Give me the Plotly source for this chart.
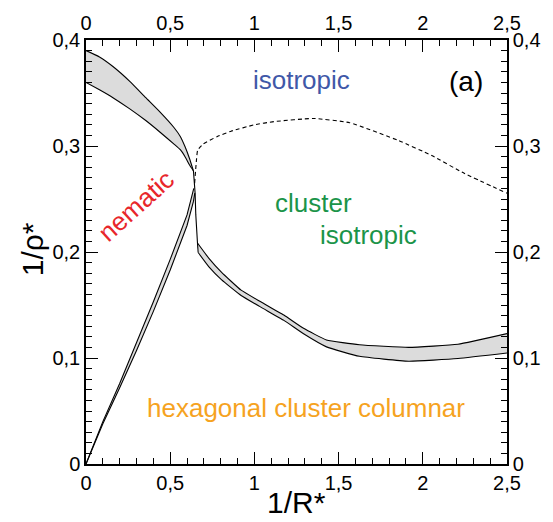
import plotly.graph_objects as go

# ---- phase boundaries (1/R*, 1/rho*) ----
# nematic / isotropic coexistence band
ni_upper_x = [0.0, 0.08, 0.16, 0.26, 0.355, 0.44, 0.521, 0.56, 0.589, 0.615, 0.638]
ni_upper_y = [0.390, 0.384, 0.375, 0.361, 0.3456, 0.332, 0.3177, 0.309, 0.299, 0.288, 0.2765]
ni_lower_x = [0.0, 0.08, 0.16, 0.26, 0.355, 0.44, 0.521, 0.56, 0.589, 0.615, 0.638]
ni_lower_y = [0.360, 0.353, 0.3456, 0.335, 0.324, 0.313, 0.302, 0.2965, 0.2897, 0.282, 0.2765]

# nematic / hexagonal coexistence band
nh_left_x = [0.0, 0.1, 0.2, 0.3, 0.4, 0.5, 0.6, 0.628, 0.640]
nh_left_y = [0.0, 0.040, 0.076, 0.114, 0.153, 0.193, 0.235, 0.2524, 0.260]
nh_right_x = [0.0, 0.1, 0.2, 0.3, 0.4, 0.5, 0.6, 0.638, 0.646]
nh_right_y = [0.0, 0.038, 0.072, 0.107, 0.144, 0.183, 0.225, 0.2477, 0.2555]

# steep boundary below the triple point
steep_x = [0.638, 0.643, 0.648, 0.652, 0.657, 0.662]
steep_y = [0.2765, 0.265, 0.2555, 0.235, 0.212, 0.2085]

# cluster isotropic / hexagonal coexistence band
ch_upper_x = [0.662, 0.73, 0.804, 0.921, 1.038, 1.175, 1.292, 1.428, 1.624, 1.916, 2.209, 2.5]
ch_upper_y = [0.2085, 0.194, 0.181, 0.164, 0.153, 0.1405, 0.128, 0.117, 0.1125, 0.110, 0.113, 0.123]
ch_lower_x = [0.666, 0.73, 0.804, 0.921, 1.038, 1.175, 1.292, 1.428, 1.624, 1.916, 2.209, 2.5]
ch_lower_y = [0.1995, 0.186, 0.174, 0.159, 0.148, 0.1355, 0.1228, 0.1105, 0.1016, 0.097, 0.0995, 0.1047]

# isotropic / cluster isotropic crossover (dashed)
ci_x = [0.645, 0.655, 0.663, 0.697, 0.78, 0.862, 1.0, 1.116, 1.35, 1.565, 1.858, 2.053, 2.248, 2.5]
ci_y = [0.265, 0.285, 0.296, 0.302, 0.309, 0.314, 0.320, 0.323, 0.326, 0.322, 0.305, 0.291, 0.274, 0.2555]

# ---- ticks ----
x_ticks = [0, 0.5, 1, 1.5, 2, 2.5]
x_labels = ["0", "0,5", "1", "1,5", "2", "2,5"]
y_ticks = [0, 0.1, 0.2, 0.3, 0.4]
y_labels = ["0", "0,1", "0,2", "0,3", "0,4"]

FONT = "Liberation Sans"
FILL = "#dcdcdc"

fig = go.Figure()


def band(ux, uy, lx, ly):
    fig.add_trace(go.Scatter(
        x=list(ux) + list(lx)[::-1], y=list(uy) + list(ly)[::-1],
        fill="toself", fillcolor=FILL, mode="none",
        hoverinfo="skip", showlegend=False))


def line(x, y, dash="solid", shape="spline"):
    fig.add_trace(go.Scatter(
        x=x, y=y, mode="lines",
        line=dict(color="black", width=1.1, dash=dash, shape=shape, smoothing=0.4),
        hoverinfo="skip", showlegend=False))


band(ni_upper_x, ni_upper_y, ni_lower_x, ni_lower_y)
band(nh_left_x, nh_left_y, nh_right_x, nh_right_y)
band(ch_upper_x, ch_upper_y, ch_lower_x, ch_lower_y)

line(ni_upper_x, ni_upper_y)
line(ni_lower_x, ni_lower_y)
line(nh_left_x, nh_left_y, shape="linear")
line(nh_right_x, nh_right_y, shape="linear")
line(steep_x, steep_y, shape="linear")
line([ch_upper_x[0], ch_lower_x[0]], [ch_upper_y[0], ch_lower_y[0]], shape="linear")
line(ch_upper_x, ch_upper_y)
line(ch_lower_x, ch_lower_y)
line(ci_x, ci_y, dash="4px,3px")

# anchor trace for the mirrored top/right axes
fig.add_trace(go.Scatter(x=[0], y=[0], xaxis="x2", yaxis="y2", mode="markers",
                         marker=dict(opacity=0), hoverinfo="skip", showlegend=False))

axis_common = dict(
    showline=True, linecolor="black", linewidth=1.5,
    ticks="inside", ticklen=12, tickwidth=1.3, tickcolor="black",
    showgrid=False, zeroline=False,
    tickfont=dict(family=FONT, size=20, color="black"),
)
minor_x = dict(ticks="inside", ticklen=6, tickwidth=1, tickcolor="black",
               tickmode="linear", tick0=0, dtick=0.1, showgrid=False)
minor_y = dict(ticks="inside", ticklen=6, tickwidth=1, tickcolor="black",
               tickmode="linear", tick0=0, dtick=0.01, showgrid=False)

fig.update_layout(
    width=553, height=522,
    margin=dict(l=86, r=40, t=35, b=58),
    paper_bgcolor="white", plot_bgcolor="white",
    xaxis=dict(range=[0, 2.5], tickmode="array", tickvals=x_ticks, ticktext=x_labels,
               minor=minor_x, **axis_common),
    yaxis=dict(range=[0, 0.4], tickmode="array", tickvals=y_ticks, ticktext=y_labels,
               minor=minor_y, **axis_common),
    xaxis2=dict(range=[0, 2.5], overlaying="x", side="top", anchor="y",
                tickmode="array", tickvals=x_ticks, ticktext=x_labels,
                minor=minor_x, **axis_common),
    yaxis2=dict(range=[0, 0.4], overlaying="y", side="right", anchor="x",
                tickmode="array", tickvals=y_ticks, ticktext=y_labels,
                minor=minor_y, **axis_common),
)

labels = [
    dict(text="isotropic", x=1.279, y=0.3627, color="#3f58a8", size=26, angle=0),
    dict(text="(a)", x=2.254, y=0.361, color="black", size=28, angle=0),
    dict(text="nematic", x=0.297, y=0.243, color="#e8262b", size=26, angle=-42),
    dict(text="cluster", x=1.351, y=0.246, color="#1b9449", size=26, angle=0),
    dict(text="isotropic", x=1.677, y=0.2163, color="#1b9449", size=26, angle=0),
    dict(text="hexagonal cluster columnar", x=1.306, y=0.053, color="#f6a31f", size=26, angle=0),
]
for lb in labels:
    fig.add_annotation(x=lb["x"], y=lb["y"], xref="x", yref="y", text=lb["text"],
                       showarrow=False, textangle=lb["angle"],
                       xanchor="center", yanchor="middle",
                       font=dict(family=FONT, size=lb["size"], color=lb["color"]))

# axis titles
fig.add_annotation(x=(300 - 86) / 427, y=-(521 - 464) / 429, xref="paper", yref="paper",
                   text="1/R*", showarrow=False, xanchor="center", yanchor="bottom",
                   borderpad=0,
                   font=dict(family=FONT, size=30, color="black"))
fig.add_annotation(x=-(86 - 32) / 427, y=(464 - 247) / 429, xref="paper", yref="paper",
                   text="1/ρ*", showarrow=False, textangle=-90,
                   xanchor="center", yanchor="middle",
                   font=dict(family=FONT, size=30, color="black"))

fig.write_html("out.html")
